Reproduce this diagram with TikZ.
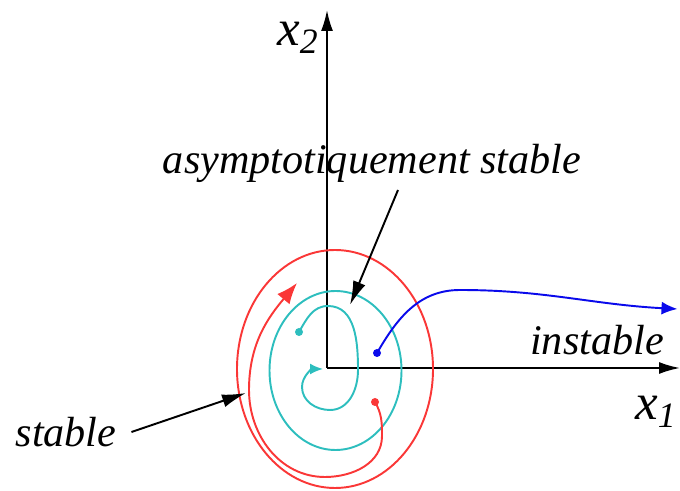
\documentclass[tikz,border=0pt]{standalone}
\usepackage{fontspec}
\setmainfont{Liberation Serif}
\usetikzlibrary{arrows.meta,positioning}
\definecolor{trajred}{RGB}{250,55,55}
\definecolor{trajcyan}{RGB}{45,190,190}
\definecolor{trajblue}{RGB}{10,10,235}

\begin{document}
\begin{tikzpicture}[
    lbl/.style={font=\fontsize{24}{28}\selectfont\itshape, inner sep=1pt},
    axlbl/.style={font=\fontsize{29}{34}\selectfont\itshape, inner sep=1pt},
    axis/.style={line width=1.1pt, -{Latex[length=0.42cm,width=0.24cm]}},
    traj/.style={line width=1.1pt},
    ptr/.style={line width=1.1pt, -{Latex[length=0.48cm,width=0.26cm]}}
]
\useasboundingbox (0,0) rectangle (13.6,9.82);

% axes
\coordinate (O) at (6.54,2.46);
\coordinate (x1end) at (13.6,2.46);
\coordinate (x2end) at (6.54,9.62);
\draw[axis] (O) -- (x1end);
\draw[axis] (O) -- (x2end);
\node[axlbl] (x2) at (5.96,9.06) {x\textsubscript{2}};
\node[axlbl] (x1) at (13.12,1.58) {x\textsubscript{1}};

% limit cycles
\draw[traj, trajred] (6.70,2.44) ellipse [x radius=1.96, y radius=2.38];
\draw[traj, trajcyan] (6.71,2.41) ellipse [x radius=1.32, y radius=1.59];

% trajectories
\coordinate (cstart) at (5.98,3.18);
\coordinate (rstart) at (7.50,1.78);
\coordinate (bstart) at (7.54,2.76);
\coordinate (ctip) at (6.46,2.44);
\coordinate (rtip) at (5.94,4.16);
\coordinate (btip) at (13.55,3.64);

\draw[traj, trajcyan, -{Latex[length=0.26cm,width=0.22cm]}] (cstart)
    to[out=60,in=180] (6.56,3.70) to[out=0,in=90] (7.16,2.42)
    to[out=-90,in=0] (6.60,1.62) to[out=180,in=-90] (6.04,2.08)
    to[out=90,in=180] (ctip);
\draw[traj, trajred, -{Latex[length=0.42cm,width=0.32cm]}] (rstart)
    to[out=-60,in=90] (7.64,1.10) to[out=-90,in=0] (6.50,0.28)
    to[out=180,in=-90] (4.98,2.02) to[out=90,in=-130] (rtip);
\draw[traj, trajblue, -{Latex[length=0.32cm,width=0.26cm]}] (bstart)
    to[out=60,in=180] (9.20,4.02) to[out=0,in=177] (btip);

\fill[trajcyan] (cstart) circle (0.08);
\fill[trajred] (rstart) circle (0.08);
\fill[trajblue] (bstart) circle (0.08);

% labels
\node[lbl] (asym) at (7.44,6.56) {asymptotiquement stable};
\node[lbl] (instable) at (11.94,3.02) {instable};
\node[lbl] (stable) at (1.32,1.18) {stable};

\coordinate (asymfrom) at (7.96,6.02);
\coordinate (asymtip) at (7.00,3.72);
\coordinate (stabletip) at (4.92,1.96);
\draw[ptr] (asymfrom) -- (asymtip);
\draw[ptr] ([xshift=0.26cm]stable.east) -- (stabletip);
\end{tikzpicture}
\end{document}
